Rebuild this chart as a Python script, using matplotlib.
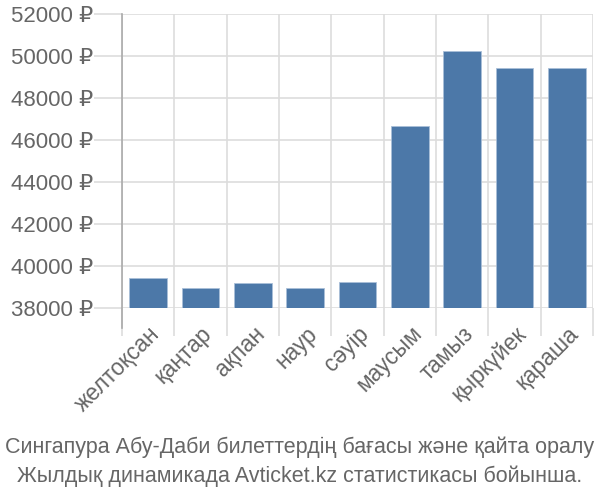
import numpy as np
import matplotlib.pyplot as plt
from matplotlib.ticker import FixedLocator

plt.rcParams['font.family'] = ['Liberation Sans', 'DejaVu Sans']

# data
months = ['желтоқсан', 'қаңтар', 'ақпан', 'наур', 'сәуір',
          'маусым', 'тамыз', 'қыркүйек', 'қараша']
prices = [39420, 38970, 39180, 38970, 39240, 46680, 50250, 49430, 49430]
yticks = [38000, 40000, 42000, 44000, 46000, 48000, 50000, 52000]
caption = ['Сингапура Абу-Даби билеттердің бағасы және қайта оралу',
           'Жылдық динамикада Avticket.kz статистикасы бойынша.']

fig = plt.figure(figsize=(6, 5), dpi=100)
ax = fig.add_axes([0.2033, 0.384, 0.785, 0.588])

x = np.arange(len(months))
ax.bar(x, np.array(prices) - 38000, bottom=38000, width=0.72,
       color='#4c78a8', edgecolor='#a9bfd8', linewidth=0.6, zorder=3)

ax.set_xlim(-0.5, len(months) - 0.5)
ax.set_ylim(38000, 52000)

ax.set_yticks(yticks)
ax.set_yticklabels([f'{v} ₽' for v in yticks])
ax.set_xticks(x)
ax.set_xticklabels(months, rotation=45, ha='right', rotation_mode='anchor')
ax.xaxis.set_minor_locator(FixedLocator(np.arange(len(months) + 1) - 0.5))

ax.grid(axis='y', color='#dddddd', linewidth=1.2, zorder=0)
ax.grid(axis='x', which='minor', color='#dddddd', linewidth=1.2, zorder=0)

ax.tick_params(axis='y', length=20, color='#dddddd', width=1.2,
               labelsize=16, labelcolor='#666666', pad=1)
ax.tick_params(axis='x', which='major', length=0, labelsize=16.3,
               labelcolor='#666666', pad=10)
ax.tick_params(axis='x', which='minor', length=20, color='#dddddd', width=1.2)

for s in ['top', 'right', 'bottom']:
    ax.spines[s].set_visible(False)
ax.spines['left'].set_color('#aaaaaa')
ax.spines['left'].set_linewidth(1.2)
ax.spines['left'].set_bounds(37050, 52000)
ax.spines['left'].set_zorder(4)

fig.text(0.5, 0.106, caption[0], ha='center', va='center',
         fontsize=15.5, color='#666666')
fig.text(0.5, 0.048, caption[1], ha='center', va='center',
         fontsize=15.5, color='#666666')

fig.savefig('out.png', dpi=100)
